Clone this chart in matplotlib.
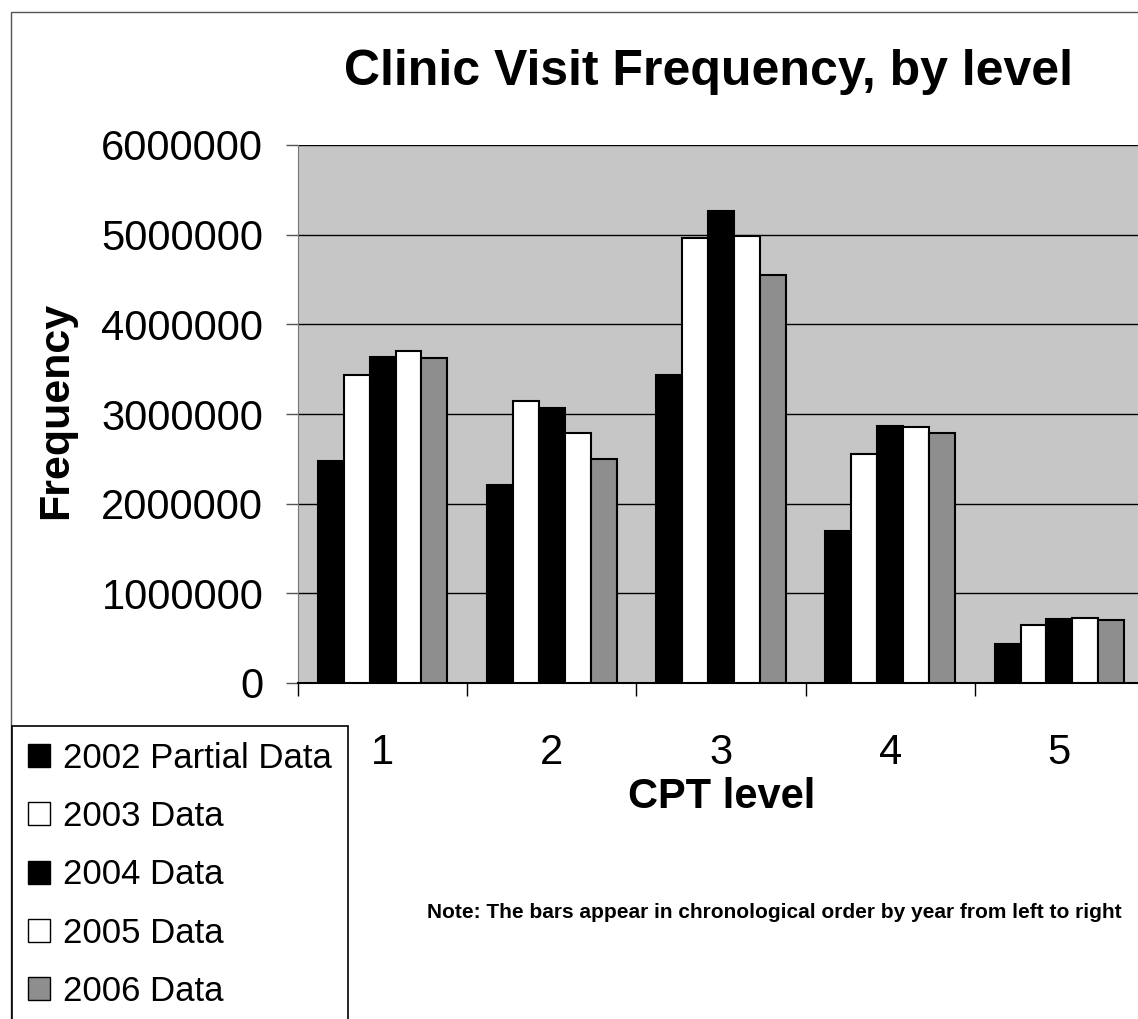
#!/usr/bin/env python3
# -*- coding: utf-8 -*-

import numpy as np
import matplotlib
matplotlib.use('Agg')
import matplotlib.pyplot as plt
from matplotlib.patches import Patch, Rectangle

plt.rcParams['font.family'] = ['Liberation Sans', 'DejaVu Sans']

levels = ['1', '2', '3', '4', '5']
years = ['2002 Partial Data', '2003 Data', '2004 Data', '2005 Data', '2006 Data']
data_2002 = [2480000, 2210000, 3430000, 1700000, 440000]
data_2003 = [3440000, 3150000, 4960000, 2555000, 650000]
data_2004 = [3640000, 3070000, 5260000, 2870000, 715000]
data_2005 = [3700000, 2790000, 4990000, 2855000, 727000]
data_2006 = [3630000, 2495000, 4550000, 2785000, 700000]
series = [data_2002, data_2003, data_2004, data_2005, data_2006]
colors = ['black', 'white', 'black', 'white', '#8e8e8e']
yticks = [0, 1000000, 2000000, 3000000, 4000000, 5000000, 6000000]

W, H = 1138, 1019
fig = plt.figure(figsize=(W / 100, H / 100), dpi=100)

# plot area runs past the right edge like in the scan
ax = fig.add_axes([298 / W, 1 - 683 / H, (1144 - 298) / W, (683 - 145) / H])
ax.set_facecolor('#c6c6c6')

x = np.arange(len(levels))
w = 0.153
for i, vals in enumerate(series):
    ax.bar(x + (i - 2) * w, vals, width=w, color=colors[i],
           edgecolor='black', linewidth=1.5, zorder=3)

ax.set_xlim(-0.5, 4.5)
ax.set_ylim(0, 6000000)
ax.set_yticks(yticks)
ax.set_yticklabels([str(v) for v in yticks], fontsize=30)
ax.yaxis.grid(True, color='black', linewidth=1.0, zorder=1)
ax.set_axisbelow(True)
ax.tick_params(axis='y', direction='out', length=9, width=1, color='#555555', pad=16)

# category boundary ticks + centered labels
ax.set_xticks(np.arange(-0.5, 5.0, 1.0))
ax.set_xticklabels([])
ax.set_xticks(x, minor=True)
ax.set_xticklabels(levels, minor=True, fontsize=30)
ax.tick_params(axis='x', which='major', direction='out', length=9, width=1)
ax.tick_params(axis='x', which='minor', length=0, pad=36)

ax.spines['top'].set_visible(False)
ax.spines['right'].set_visible(False)
ax.spines['left'].set_color('#777777')
ax.spines['bottom'].set_linewidth(1.5)

fig.text(709 / W, 1 - 85 / H, 'Clinic Visit Frequency, by level',
         fontsize=36, fontweight='bold', ha='center', va='baseline')
fig.text(56 / W, 1 - 410 / H, 'Frequency', fontsize=31, fontweight='bold',
         rotation=90, ha='center', va='center')
fig.text(722 / W, 1 - 797 / H, 'CPT level', fontsize=30, fontweight='bold',
         ha='center', va='center')
fig.text(427 / W, 1 - 912 / H,
         'Note: The bars appear in chronological order by year from left to right',
         fontsize=15, fontweight='bold', ha='left', va='center')

# outer chart border
fig.patches.append(Rectangle((11 / W, -0.1), 1.2, 1 - 12 / H + 0.1,
                             transform=fig.transFigure, fill=False,
                             edgecolor='#555555', linewidth=1))

handles = [Patch(facecolor=c, edgecolor='black', linewidth=1) for c in colors]
leg = fig.legend(handles, years, loc='upper left',
                 bbox_to_anchor=(12 / W, 1 - 726 / H), bbox_transform=fig.transFigure,
                 borderaxespad=0, fancybox=False, edgecolor='black', fontsize=25,
                 handlelength=0.65, handleheight=0.65, handletextpad=0.37,
                 labelspacing=0.73, borderpad=0.45, framealpha=1)
leg.get_frame().set_linewidth(1.2)

plt.savefig('out.png', dpi=100)
